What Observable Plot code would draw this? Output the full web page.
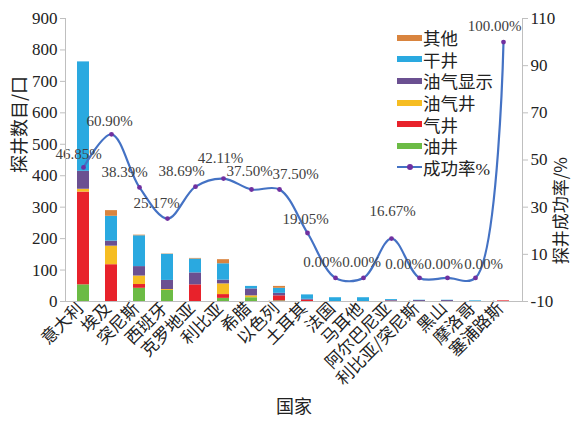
<!DOCTYPE html>
<html><head><meta charset="utf-8">
<script src="https://cdn.jsdelivr.net/npm/d3@7"></script>
<script src="https://cdn.jsdelivr.net/npm/@observablehq/plot@0.6"></script>
<style>
body{margin:0;background:#fff;}
#wrap{position:relative;width:574px;height:422px;overflow:hidden;}
#wrap svg{font-family:"Liberation Serif","Noto Sans CJK SC",serif;}
#legend{position:absolute;left:397px;top:27px;font-family:"Liberation Serif","Noto Sans CJK SC",serif;font-size:17.5px;color:#222;}
#legend .row{height:21.6px;display:flex;align-items:center;}
#legend .sw{width:25px;height:6px;margin-right:1px;}
#legend .ln{width:25px;height:2px;background:#4472c4;margin-right:1px;position:relative;}
#legend .ln i{position:absolute;left:9.5px;top:-2.5px;width:6px;height:6px;border-radius:50%;background:#7030a0;}
</style></head><body>
<div id="wrap"><div id="legend"></div></div>
<script>
// ---- data ----
const countries = ["意大利","埃及","突尼斯","西班牙","克罗地亚","利比亚","希腊","以色列","土耳其","法国","马耳他","阿尔巴尼亚","利比亚/突尼斯","黑山","摩洛哥","塞浦路斯"];
const oilWells   = [53, 0, 42, 35, 0, 10, 12, 2, 0, 0, 0, 0, 0, 0, 0, 0];
const gasWells   = [295, 117, 12, 0, 53, 12, 0, 16, 4, 0, 0, 1, 0, 0, 0, 2];
const oilGasWells= [9, 59, 27, 3, 0, 34, 6, 0, 0, 0, 0, 0, 0, 0, 0, 0];
const shows      = [57, 16, 30, 29, 38, 12, 22, 8, 3, 0, 0, 2, 3, 3, 0, 0];
const dryWells   = [348, 79, 98, 83, 44, 52, 8, 16, 14, 12, 12, 3, 1, 1, 2, 0];
const others     = [0, 18, 2, 1, 2, 13, 0, 6, 0, 0, 0, 0, 0, 0, 0, 0];
const successRate = [46.85, 60.90, 38.39, 25.17, 38.69, 42.11, 37.50, 37.50, 19.05, 0.00, 0.00, 16.67, 0.00, 0.00, 0.00, 100.00];
const leftTicks = [0,100,200,300,400,500,600,700,800,900];
const rightTicks = [-10,10,30,50,70,90,110];
const typeNames = ["油井","气井","油气井","油气显示","干井","其他"];
// label offsets (styling)
const labelOffsets = [[-5,-13],[-2,-13],[-15,-15],[-11,-15],[-14,-15],[-3,-20],[-2,-18],[16,-15],[-2,-14],[-13,-16],[-2,-16],[1,-27],[-15,-14],[-4,-14],[8,-14],[-9,-16]];
const typeColors = ["#6cbb45","#e8222b","#f6bd22","#6b5091","#2aa9e0","#d9843e"];

const series = [oilWells, gasWells, oilGasWells, shows, dryWells, others];
const bars = [];
countries.forEach((c,i)=>series.forEach((s,k)=>{ if (s[i]>0) bars.push({country:c, type:typeNames[k], value:s[i]}); }));
const toLeft = r => (r + 10) * 900 / 120;
const rates = countries.map((c,i)=>({country:c, rate:successRate[i], v:toLeft(successRate[i])}));

const W=574,H=422;
const plot = Plot.plot({
  width: W, height: H,
  marginLeft: 65, marginRight: 52, marginTop: 18, marginBottom: 121,
  style: {fontSize: "17px", color: "#222", background: "#fff", overflow: "visible"},
  x: {domain: countries, paddingInner: 0.56, paddingOuter: 0.28, label: null},
  y: {domain: [0, 900], label: null},
  color: {domain: typeNames, range: typeColors},
  marks: [
    Plot.barY(bars, {x:"country", y:"value", fill:"type", order: typeNames}),
    Plot.line(rates, {x:"country", y:"v", stroke:"#4472c4", strokeWidth:2.2, curve:"catmull-rom"}),
    Plot.dot(rates, {x:"country", y:"v", r:2.4, fill:"#7030a0"}),
    ...rates.map((d,i)=>Plot.text([d], {x:"country", y:"v", text: d=>d.rate.toFixed(2)+"%", dx: labelOffsets[i][0], dy: labelOffsets[i][1], fontSize: 15, fill:"#404040"})),
    Plot.axisY({ticks: leftTicks, tickSize: 5, tickPadding: 3, stroke:"#bfbfbf", fontSize: 17, label: null}),
    Plot.axisY({anchor:"right", ticks: rightTicks.map(toLeft), tickFormat: d=>String(Math.round(d*120/900-10)), tickSize: 5, tickPadding: 3, stroke:"#bfbfbf", fontSize: 17, label: null}),
    Plot.axisX({tickRotate: -45, tickSize: 0, tickPadding: 4, dx: -3, fontSize: 17, fontFamily:"Noto Sans CJK SC", label: null}),
    Plot.frame({anchor:"left", stroke:"#bfbfbf"}),
    Plot.frame({anchor:"right", stroke:"#bfbfbf"}),
    Plot.frame({anchor:"bottom", stroke:"#bfbfbf"}),
    Plot.text(["探井数目/口"], {frameAnchor:"left", rotate:-90, dx:-45, dy:13, fontSize:18, fontFamily:"Noto Sans CJK SC", fill:"#222"}),
    Plot.text(["探井成功率/%"], {frameAnchor:"right", rotate:-90, dx:39, dy:-3, fontSize:17, fontFamily:"Noto Sans CJK SC", fill:"#222"}),
    Plot.text(["国家"], {frameAnchor:"bottom", dy:111, fontSize:18, fontFamily:"Noto Sans CJK SC", fill:"#222"})
  ]
});
document.getElementById("wrap").prepend(plot);

// legend (top-to-bottom order as in reference)
const leg = document.getElementById("legend");
[5,4,3,2,1,0].forEach(k=>{
  const row=document.createElement("div"); row.className="row";
  row.innerHTML=`<span class="sw" style="background:${typeColors[k]}"></span><span>${typeNames[k]}</span>`;
  leg.appendChild(row);
});
const row=document.createElement("div"); row.className="row";
row.innerHTML=`<span class="ln"><i></i></span><span>成功率%</span>`;
leg.appendChild(row);
</script>
</body></html>
